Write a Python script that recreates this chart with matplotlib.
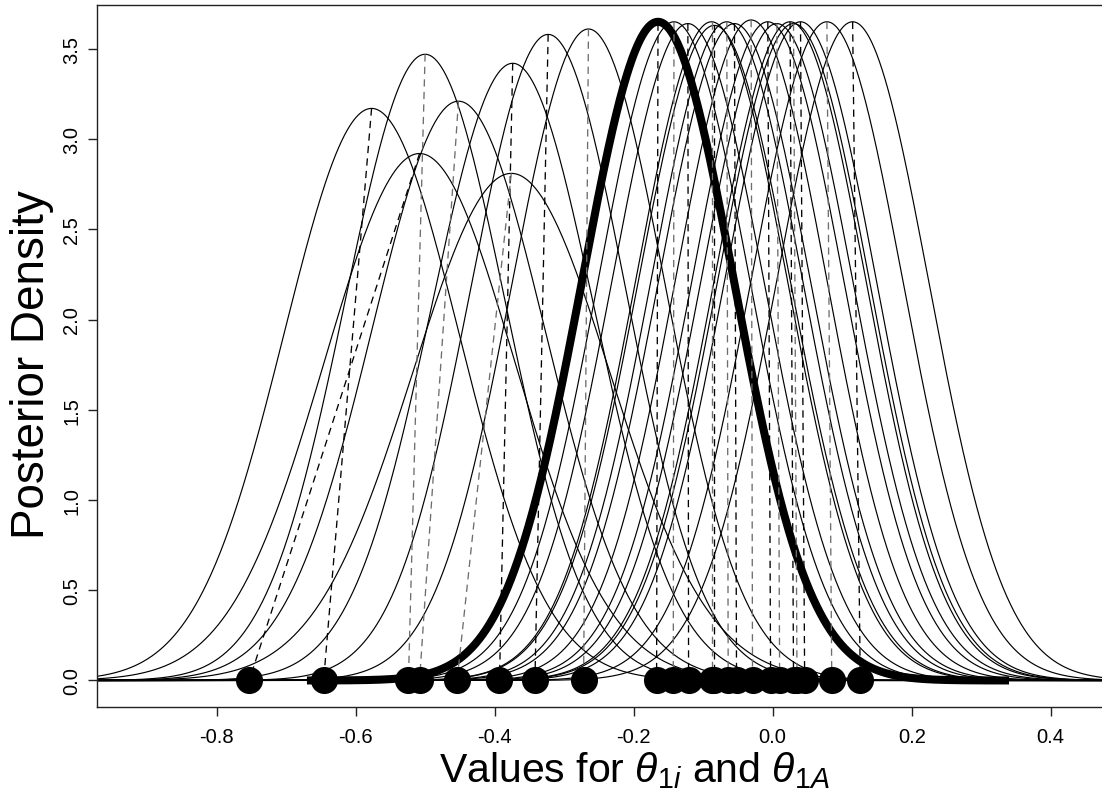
import numpy as np
import matplotlib
matplotlib.use("Agg")
import matplotlib.pyplot as plt

plt.rcParams['font.family'] = ['Liberation Sans', 'DejaVu Sans']
plt.rcParams['mathtext.fontset'] = 'custom'
plt.rcParams['mathtext.rm'] = 'Liberation Sans'
plt.rcParams['mathtext.it'] = 'Liberation Sans:italic'
plt.rcParams['mathtext.bf'] = 'Liberation Sans:bold'

# posterior modes of the individual theta_1i curves
post_means = [-0.577, -0.500, -0.508, -0.452, -0.374, -0.376, -0.323, -0.265,
              -0.165, -0.142, -0.122, -0.088, -0.084, -0.066, -0.055, -0.031,
              -0.007, 0.006, 0.025, 0.030, 0.040, 0.078, 0.115]
# peak heights of the posterior densities
post_peaks = [3.17, 3.47, 2.92, 3.21, 3.42, 2.81, 3.58, 3.61,
              3.64, 3.65, 3.64, 3.65, 3.63, 3.65, 3.64, 3.66,
              3.65, 3.64, 3.65, 3.64, 3.65, 3.65, 3.65]
# raw (unpooled) estimates, shown as dots on the axis
raw_estimates = [-0.646, -0.524, -0.753, -0.508, -0.393, -0.454, -0.342, -0.272,
                 -0.167, -0.143, -0.121, -0.088, -0.084, -0.064, -0.052, -0.029,
                 -0.003, 0.010, 0.030, 0.035, 0.046, 0.085, 0.126]
# overall theta_1A posterior
overall_mean = -0.165
overall_peak = 3.65
overall_span = [-0.67, 0.34]

x_ticks = [-0.8, -0.6, -0.4, -0.2, 0.0, 0.2, 0.4]
y_ticks = [0.0, 0.5, 1.0, 1.5, 2.0, 2.5, 3.0, 3.5]
x_title = r'Values for $\theta_{1i}$ and $\theta_{1A}$'
y_title = 'Posterior Density'

W, H = 1102, 803
fig = plt.figure(figsize=(W / 100, H / 100), dpi=100)
left_px, right_px, top_px, bottom_px = 97, 1171, 6, 708
ax = fig.add_axes([left_px / W, 1 - bottom_px / H,
                   (right_px - left_px) / W, (bottom_px - top_px) / H])
xlim = (-0.972, 0.573)
ylim = (-0.147, 3.743)
ax.set_xlim(*xlim)
ax.set_ylim(*ylim)


def npdf(x, m, peak):
    sd = 1.0 / (peak * np.sqrt(2 * np.pi))
    return peak * np.exp(-0.5 * ((x - m) / sd) ** 2)


xs = np.linspace(xlim[0], xlim[1], 1500)
for m, pk in zip(post_means, post_peaks):
    ax.plot(xs, npdf(xs, m, pk), color='black', lw=0.85, zorder=2)

# thick overall posterior
xt = np.linspace(overall_span[0], overall_span[1], 800)
ax.plot(xt, npdf(xt, overall_mean, overall_peak), color='black', lw=5.8,
        solid_capstyle='butt', zorder=3)

# dashed shrinkage lines from posterior mode to raw estimate
for i, (m, pk, r) in enumerate(zip(post_means, post_peaks, raw_estimates)):
    col = 'black' if i % 2 == 0 else '#6e6e6e'
    ax.plot([m, r], [pk, 0.0], color=col, lw=0.95, dashes=(5.5, 4), zorder=4)

ax.plot(raw_estimates, [0.0] * len(raw_estimates), 'o', color='black',
        markersize=19.5, markeredgewidth=0, zorder=5, clip_on=False)

ax.set_xticks(x_ticks)
ax.set_xticklabels(['%.1f' % v for v in x_ticks])
ax.set_yticks(y_ticks)
ax.set_yticklabels(['%.1f' % v for v in y_ticks], rotation=90, va='center')
ax.tick_params(axis='both', labelsize=14.5, length=6.3, width=1, color='#222222',
               direction='out')
ax.tick_params(axis='x', pad=8)
ax.tick_params(axis='y', pad=5)
for s in ax.spines.values():
    s.set_linewidth(1.0)
    s.set_color('#222222')

fig.text(634 / W, 1 - 782 / H, x_title, fontsize=29.5, ha='center', va='baseline')
fig.text(32 / W, 1 - 365 / H, y_title, fontsize=33, rotation=90,
         ha='center', va='center')

fig.savefig('out.png', dpi=100)
